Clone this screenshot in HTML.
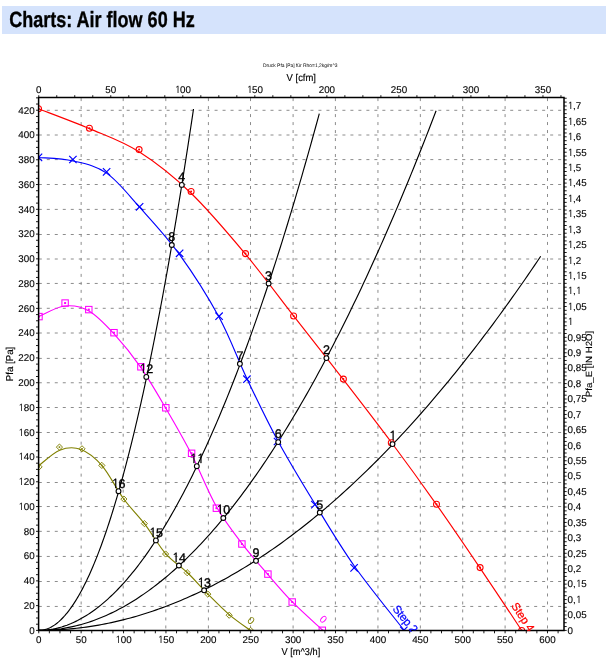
<!DOCTYPE html>
<html><head><meta charset="utf-8"><title>Charts: Air flow 60 Hz</title>
<style>html,body{margin:0;padding:0;background:#fff;width:606px;height:661px;overflow:hidden;position:relative}</style>
</head><body>
<svg xmlns="http://www.w3.org/2000/svg" width="606" height="661" viewBox="0 0 606 661" text-rendering="geometricPrecision" style="position:absolute;left:0;top:0">
<defs><clipPath id="pl"><rect x="38.6" y="97.6" width="525.4" height="534.2"/></clipPath><clipPath id="pc"><rect x="38.6" y="97.6" width="525.4" height="532.9"/></clipPath></defs>
<rect x="2" y="6" width="604" height="28" fill="#d5e3fc"/>
<text x="9.2" y="26.9" font-family="Liberation Sans, Arial, sans-serif" font-weight="bold" font-size="22.1" textLength="185.5" lengthAdjust="spacingAndGlyphs" fill="#000" stroke="#000" stroke-width="0.35">Charts: Air flow 60 Hz</text>
<path d="M81.15,98.1V630.50 M123.20,98.1V630.50 M165.80,98.1V630.50 M208.40,98.1V630.50 M250.50,98.1V630.50 M293.10,98.1V630.50 M335.40,98.1V630.50 M377.95,98.1V630.50 M420.35,98.1V630.50 M462.70,98.1V630.50 M505.10,98.1V630.50 M547.50,98.1V630.50" stroke="#8c8c8c" stroke-width="1" stroke-dasharray="3 4.99" fill="none"/>
<path d="M38.8,606.45H564.00 M38.8,581.50H564.00 M38.8,556.44H564.00 M38.8,531.35H564.00 M38.8,506.53H564.00 M38.8,482.50H564.00 M38.8,457.50H564.00 M38.8,432.50H564.00 M38.8,407.50H564.00 M38.8,382.75H564.00 M38.8,358.40H564.00 M38.8,333.00H564.00 M38.8,308.30H564.00 M38.8,283.45H564.00 M38.8,259.00H564.00 M38.8,234.50H564.00 M38.8,209.40H564.00 M38.8,184.50H564.00 M38.8,159.60H564.00 M38.8,135.00H564.00 M38.8,110.30H564.00" stroke="#8c8c8c" stroke-width="1" stroke-dasharray="3 4.99" fill="none"/>
<path d="M36.00,630.40H38.60 M36.00,624.21H38.60 M36.00,618.01H38.60 M36.00,611.82H38.60 M36.00,605.63H38.60 M36.00,599.44H38.60 M36.00,593.25H38.60 M36.00,587.05H38.60 M36.00,580.86H38.60 M36.00,574.67H38.60 M36.00,568.48H38.60 M36.00,562.28H38.60 M36.00,556.09H38.60 M36.00,549.90H38.60 M36.00,543.70H38.60 M36.00,537.51H38.60 M36.00,531.32H38.60 M36.00,525.13H38.60 M36.00,518.93H38.60 M36.00,512.74H38.60 M36.00,506.55H38.60 M36.00,500.36H38.60 M36.00,494.16H38.60 M36.00,487.97H38.60 M36.00,481.78H38.60 M36.00,475.59H38.60 M36.00,469.39H38.60 M36.00,463.20H38.60 M36.00,457.01H38.60 M36.00,450.82H38.60 M36.00,444.62H38.60 M36.00,438.43H38.60 M36.00,432.24H38.60 M36.00,426.05H38.60 M36.00,419.86H38.60 M36.00,413.66H38.60 M36.00,407.47H38.60 M36.00,401.28H38.60 M36.00,395.08H38.60 M36.00,388.89H38.60 M36.00,382.70H38.60 M36.00,376.51H38.60 M36.00,370.31H38.60 M36.00,364.12H38.60 M36.00,357.93H38.60 M36.00,351.74H38.60 M36.00,345.55H38.60 M36.00,339.35H38.60 M36.00,333.16H38.60 M36.00,326.97H38.60 M36.00,320.77H38.60 M36.00,314.58H38.60 M36.00,308.39H38.60 M36.00,302.20H38.60 M36.00,296.00H38.60 M36.00,289.81H38.60 M36.00,283.62H38.60 M36.00,277.43H38.60 M36.00,271.24H38.60 M36.00,265.04H38.60 M36.00,258.85H38.60 M36.00,252.66H38.60 M36.00,246.46H38.60 M36.00,240.27H38.60 M36.00,234.08H38.60 M36.00,227.89H38.60 M36.00,221.69H38.60 M36.00,215.50H38.60 M36.00,209.31H38.60 M36.00,203.12H38.60 M36.00,196.93H38.60 M36.00,190.73H38.60 M36.00,184.54H38.60 M36.00,178.35H38.60 M36.00,172.16H38.60 M36.00,165.96H38.60 M36.00,159.77H38.60 M36.00,153.58H38.60 M36.00,147.38H38.60 M36.00,141.19H38.60 M36.00,135.00H38.60 M36.00,128.81H38.60 M36.00,122.62H38.60 M36.00,116.42H38.60 M36.00,110.23H38.60 M36.00,104.04H38.60 M36.00,97.85H38.60 M564.00,630.40H566.70 M564.00,626.54H566.70 M564.00,622.69H566.70 M564.00,618.83H566.70 M564.00,614.98H566.70 M564.00,611.12H566.70 M564.00,607.26H566.70 M564.00,603.41H566.70 M564.00,599.55H566.70 M564.00,595.69H566.70 M564.00,591.84H566.70 M564.00,587.98H566.70 M564.00,584.13H566.70 M564.00,580.27H566.70 M564.00,576.41H566.70 M564.00,572.56H566.70 M564.00,568.70H566.70 M564.00,564.84H566.70 M564.00,560.99H566.70 M564.00,557.13H566.70 M564.00,553.28H566.70 M564.00,549.42H566.70 M564.00,545.56H566.70 M564.00,541.71H566.70 M564.00,537.85H566.70 M564.00,533.99H566.70 M564.00,530.14H566.70 M564.00,526.28H566.70 M564.00,522.43H566.70 M564.00,518.57H566.70 M564.00,514.71H566.70 M564.00,510.86H566.70 M564.00,507.00H566.70 M564.00,503.15H566.70 M564.00,499.29H566.70 M564.00,495.43H566.70 M564.00,491.58H566.70 M564.00,487.72H566.70 M564.00,483.86H566.70 M564.00,480.01H566.70 M564.00,476.15H566.70 M564.00,472.30H566.70 M564.00,468.44H566.70 M564.00,464.58H566.70 M564.00,460.73H566.70 M564.00,456.87H566.70 M564.00,453.01H566.70 M564.00,449.16H566.70 M564.00,445.30H566.70 M564.00,441.45H566.70 M564.00,437.59H566.70 M564.00,433.73H566.70 M564.00,429.88H566.70 M564.00,426.02H566.70 M564.00,422.16H566.70 M564.00,418.31H566.70 M564.00,414.45H566.70 M564.00,410.60H566.70 M564.00,406.74H566.70 M564.00,402.88H566.70 M564.00,399.03H566.70 M564.00,395.17H566.70 M564.00,391.32H566.70 M564.00,387.46H566.70 M564.00,383.60H566.70 M564.00,379.75H566.70 M564.00,375.89H566.70 M564.00,372.03H566.70 M564.00,368.18H566.70 M564.00,364.32H566.70 M564.00,360.47H566.70 M564.00,356.61H566.70 M564.00,352.75H566.70 M564.00,348.90H566.70 M564.00,345.04H566.70 M564.00,341.18H566.70 M564.00,337.33H566.70 M564.00,333.47H566.70 M564.00,329.62H566.70 M564.00,325.76H566.70 M564.00,321.90H566.70 M564.00,318.05H566.70 M564.00,314.19H566.70 M564.00,310.33H566.70 M564.00,306.48H566.70 M564.00,302.62H566.70 M564.00,298.77H566.70 M564.00,294.91H566.70 M564.00,291.05H566.70 M564.00,287.20H566.70 M564.00,283.34H566.70 M564.00,279.48H566.70 M564.00,275.63H566.70 M564.00,271.77H566.70 M564.00,267.92H566.70 M564.00,264.06H566.70 M564.00,260.20H566.70 M564.00,256.35H566.70 M564.00,252.49H566.70 M564.00,248.64H566.70 M564.00,244.78H566.70 M564.00,240.92H566.70 M564.00,237.07H566.70 M564.00,233.21H566.70 M564.00,229.35H566.70 M564.00,225.50H566.70 M564.00,221.64H566.70 M564.00,217.79H566.70 M564.00,213.93H566.70 M564.00,210.07H566.70 M564.00,206.22H566.70 M564.00,202.36H566.70 M564.00,198.50H566.70 M564.00,194.65H566.70 M564.00,190.79H566.70 M564.00,186.94H566.70 M564.00,183.08H566.70 M564.00,179.22H566.70 M564.00,175.37H566.70 M564.00,171.51H566.70 M564.00,167.65H566.70 M564.00,163.80H566.70 M564.00,159.94H566.70 M564.00,156.09H566.70 M564.00,152.23H566.70 M564.00,148.37H566.70 M564.00,144.52H566.70 M564.00,140.66H566.70 M564.00,136.81H566.70 M564.00,132.95H566.70 M564.00,129.09H566.70 M564.00,125.24H566.70 M564.00,121.38H566.70 M564.00,117.52H566.70 M564.00,113.67H566.70 M564.00,109.81H566.70 M564.00,105.96H566.70 M564.00,102.10H566.70 M564.00,98.24H566.70 M38.75,630.50V633.30 M49.35,630.50V633.30 M59.95,630.50V633.30 M70.55,630.50V633.30 M81.14,630.50V633.30 M91.74,630.50V633.30 M102.34,630.50V633.30 M112.94,630.50V633.30 M123.54,630.50V633.30 M134.14,630.50V633.30 M144.74,630.50V633.30 M155.34,630.50V633.30 M165.94,630.50V633.30 M176.53,630.50V633.30 M187.13,630.50V633.30 M197.73,630.50V633.30 M208.33,630.50V633.30 M218.93,630.50V633.30 M229.53,630.50V633.30 M240.13,630.50V633.30 M250.72,630.50V633.30 M261.32,630.50V633.30 M271.92,630.50V633.30 M282.52,630.50V633.30 M293.12,630.50V633.30 M303.72,630.50V633.30 M314.32,630.50V633.30 M324.92,630.50V633.30 M335.51,630.50V633.30 M346.11,630.50V633.30 M356.71,630.50V633.30 M367.31,630.50V633.30 M377.91,630.50V633.30 M388.51,630.50V633.30 M399.11,630.50V633.30 M409.71,630.50V633.30 M420.31,630.50V633.30 M430.90,630.50V633.30 M441.50,630.50V633.30 M452.10,630.50V633.30 M462.70,630.50V633.30 M473.30,630.50V633.30 M483.90,630.50V633.30 M494.50,630.50V633.30 M505.09,630.50V633.30 M515.69,630.50V633.30 M526.29,630.50V633.30 M536.89,630.50V633.30 M547.49,630.50V633.30 M558.09,630.50V633.30 M38.75,95.20V97.60 M56.76,95.20V97.60 M74.76,95.20V97.60 M92.77,95.20V97.60 M110.78,95.20V97.60 M128.79,95.20V97.60 M146.79,95.20V97.60 M164.80,95.20V97.60 M182.81,95.20V97.60 M200.82,95.20V97.60 M218.82,95.20V97.60 M236.83,95.20V97.60 M254.84,95.20V97.60 M272.85,95.20V97.60 M290.85,95.20V97.60 M308.86,95.20V97.60 M326.87,95.20V97.60 M344.88,95.20V97.60 M362.88,95.20V97.60 M380.89,95.20V97.60 M398.90,95.20V97.60 M416.91,95.20V97.60 M434.91,95.20V97.60 M452.92,95.20V97.60 M470.93,95.20V97.60 M488.93,95.20V97.60 M506.94,95.20V97.60 M524.95,95.20V97.60 M542.96,95.20V97.60 M560.96,95.20V97.60" stroke="#000" stroke-width="0.9" fill="none"/>
<g clip-path="url(#pc)">
<path d="M38.75,630.40 L41.91,630.39 L45.06,630.34 L48.22,630.27 L51.38,630.16 L54.53,630.03 L57.69,629.87 L60.85,629.67 L64.01,629.45 L67.16,629.20 L70.32,628.92 L73.48,628.61 L76.63,628.27 L79.79,627.90 L82.95,627.50 L86.10,627.07 L89.26,626.61 L92.42,626.12 L95.57,625.61 L98.73,625.06 L101.89,624.48 L105.05,623.87 L108.20,623.24 L111.36,622.57 L114.52,621.88 L117.67,621.15 L120.83,620.40 L123.99,619.61 L127.14,618.80 L130.30,617.96 L133.46,617.08 L136.61,616.18 L139.77,615.25 L142.93,614.29 L146.09,613.29 L149.24,612.27 L152.40,611.22 L155.56,610.14 L158.71,609.03 L161.87,607.89 L165.03,606.72 L168.18,605.53 L171.34,604.30 L174.50,603.04 L177.65,601.75 L180.81,600.43 L183.97,599.09 L187.13,597.71 L190.28,596.31 L193.44,594.87 L196.60,593.41 L199.75,591.91 L202.91,590.39 L206.07,588.83 L209.22,587.25 L212.38,585.64 L215.54,583.99 L218.69,582.32 L221.85,580.62 L225.01,578.89 L228.17,577.13 L231.32,575.34 L234.48,573.52 L237.64,571.67 L240.79,569.79 L243.95,567.88 L247.11,565.94 L250.26,563.97 L253.42,561.98 L256.58,559.95 L259.73,557.89 L262.89,555.80 L266.05,553.69 L269.21,551.54 L272.36,549.37 L275.52,547.16 L278.68,544.93 L281.83,542.66 L284.99,540.37 L288.15,538.05 L291.30,535.69 L294.46,533.31 L297.62,530.90 L300.77,528.46 L303.93,525.99 L307.09,523.49 L310.24,520.96 L313.40,518.40 L316.56,515.81 L319.72,513.19 L322.87,510.54 L326.03,507.86 L329.19,505.15 L332.34,502.41 L335.50,499.65 L338.66,496.85 L341.81,494.02 L344.97,491.17 L348.13,488.28 L351.28,485.37 L354.44,482.42 L357.60,479.45 L360.76,476.44 L363.91,473.41 L367.07,470.35 L370.23,467.26 L373.38,464.13 L376.54,460.98 L379.70,457.80 L382.85,454.59 L386.01,451.35 L389.17,448.08 L392.32,444.78 L395.48,441.45 L398.64,438.09 L401.80,434.70 L404.95,431.28 L408.11,427.83 L411.27,424.36 L414.42,420.85 L417.58,417.31 L420.74,413.75 L423.89,410.15 L427.05,406.53 L430.21,402.87 L433.36,399.19 L436.52,395.47 L439.68,391.73 L442.84,387.95 L445.99,384.15 L449.15,380.32 L452.31,376.46 L455.46,372.57 L458.62,368.64 L461.78,364.69 L464.93,360.71 L468.09,356.70 L471.25,352.66 L474.40,348.59 L477.56,344.49 L480.72,340.37 L483.88,336.21 L487.03,332.02 L490.19,327.80 L493.35,323.56 L496.50,319.28 L499.66,314.97 L502.82,310.64 L505.97,306.27 L509.13,301.88 L512.29,297.45 L515.44,293.00 L518.60,288.51 L521.76,284.00 L524.92,279.46 L528.07,274.89 L531.23,270.28 L534.39,265.65 L537.54,260.99 L540.70,256.30" stroke="#000" stroke-width="1.15" fill="none"/>
<path d="M38.75,630.40 L41.25,630.38 L43.75,630.32 L46.25,630.22 L48.75,630.07 L51.25,629.89 L53.74,629.66 L56.24,629.39 L58.74,629.08 L61.24,628.74 L63.74,628.34 L66.24,627.91 L68.74,627.44 L71.24,626.93 L73.74,626.37 L76.24,625.78 L78.73,625.14 L81.23,624.46 L83.73,623.74 L86.23,622.98 L88.73,622.18 L91.23,621.34 L93.73,620.45 L96.23,619.53 L98.73,618.56 L101.23,617.55 L103.73,616.51 L106.22,615.42 L108.72,614.29 L111.22,613.12 L113.72,611.90 L116.22,610.65 L118.72,609.35 L121.22,608.02 L123.72,606.64 L126.22,605.22 L128.72,603.76 L131.22,602.26 L133.71,600.72 L136.21,599.14 L138.71,597.52 L141.21,595.85 L143.71,594.14 L146.21,592.40 L148.71,590.61 L151.21,588.78 L153.71,586.91 L156.21,585.00 L158.70,583.05 L161.20,581.05 L163.70,579.02 L166.20,576.94 L168.70,574.83 L171.20,572.67 L173.70,570.47 L176.20,568.23 L178.70,565.95 L181.20,563.62 L183.70,561.26 L186.19,558.86 L188.69,556.41 L191.19,553.92 L193.69,551.40 L196.19,548.83 L198.69,546.22 L201.19,543.56 L203.69,540.87 L206.19,538.14 L208.69,535.36 L211.18,532.55 L213.68,529.69 L216.18,526.79 L218.68,523.85 L221.18,520.87 L223.68,517.85 L226.18,514.79 L228.68,511.69 L231.18,508.54 L233.68,505.36 L236.18,502.13 L238.67,498.86 L241.17,495.55 L243.67,492.20 L246.17,488.81 L248.67,485.38 L251.17,481.91 L253.67,478.39 L256.17,474.84 L258.67,471.24 L261.17,467.60 L263.67,463.92 L266.16,460.20 L268.66,456.44 L271.16,452.64 L273.66,448.80 L276.16,444.91 L278.66,440.99 L281.16,437.02 L283.66,433.01 L286.16,428.96 L288.66,424.87 L291.15,420.74 L293.65,416.57 L296.15,412.36 L298.65,408.10 L301.15,403.81 L303.65,399.47 L306.15,395.09 L308.65,390.67 L311.15,386.21 L313.65,381.71 L316.15,377.17 L318.64,372.59 L321.14,367.96 L323.64,363.30 L326.14,358.59 L328.64,353.84 L331.14,349.05 L333.64,344.22 L336.14,339.35 L338.64,334.44 L341.14,329.49 L343.63,324.49 L346.13,319.46 L348.63,314.38 L351.13,309.26 L353.63,304.10 L356.13,298.90 L358.63,293.66 L361.13,288.38 L363.63,283.06 L366.13,277.69 L368.63,272.29 L371.12,266.84 L373.62,261.35 L376.12,255.83 L378.62,250.26 L381.12,244.64 L383.62,238.99 L386.12,233.30 L388.62,227.57 L391.12,221.79 L393.62,215.97 L396.12,210.12 L398.61,204.22 L401.11,198.28 L403.61,192.30 L406.11,186.27 L408.61,180.21 L411.11,174.11 L413.61,167.96 L416.11,161.78 L418.61,155.55 L421.11,149.28 L423.60,142.97 L426.10,136.62 L428.60,130.23 L431.10,123.79 L433.60,117.32 L436.10,110.80" stroke="#000" stroke-width="1.15" fill="none"/>
<path d="M38.75,630.40 L40.51,630.38 L42.28,630.32 L44.04,630.22 L45.81,630.07 L47.57,629.89 L49.34,629.66 L51.10,629.40 L52.87,629.09 L54.63,628.74 L56.39,628.36 L58.16,627.93 L59.92,627.46 L61.69,626.95 L63.45,626.39 L65.22,625.80 L66.98,625.17 L68.75,624.49 L70.51,623.78 L72.27,623.02 L74.04,622.22 L75.80,621.38 L77.57,620.51 L79.33,619.59 L81.10,618.62 L82.86,617.62 L84.63,616.58 L86.39,615.50 L88.16,614.37 L89.92,613.21 L91.68,612.00 L93.45,610.75 L95.21,609.47 L96.98,608.14 L98.74,606.77 L100.51,605.36 L102.27,603.91 L104.04,602.41 L105.80,600.88 L107.56,599.31 L109.33,597.69 L111.09,596.04 L112.86,594.34 L114.62,592.60 L116.39,590.82 L118.15,589.00 L119.92,587.14 L121.68,585.24 L123.44,583.30 L125.21,581.32 L126.97,579.29 L128.74,577.23 L130.50,575.12 L132.27,572.98 L134.03,570.79 L135.80,568.56 L137.56,566.29 L139.32,563.98 L141.09,561.63 L142.85,559.24 L144.62,556.81 L146.38,554.33 L148.15,551.82 L149.91,549.26 L151.68,546.67 L153.44,544.03 L155.20,541.35 L156.97,538.63 L158.73,535.87 L160.50,533.07 L162.26,530.23 L164.03,527.35 L165.79,524.42 L167.56,521.46 L169.32,518.45 L171.08,515.41 L172.85,512.32 L174.61,509.19 L176.38,506.03 L178.14,502.82 L179.91,499.57 L181.67,496.27 L183.44,492.94 L185.20,489.57 L186.97,486.16 L188.73,482.70 L190.49,479.20 L192.26,475.67 L194.02,472.09 L195.79,468.47 L197.55,464.81 L199.32,461.11 L201.08,457.37 L202.85,453.59 L204.61,449.77 L206.37,445.90 L208.14,442.00 L209.90,438.05 L211.67,434.07 L213.43,430.04 L215.20,425.97 L216.96,421.86 L218.73,417.71 L220.49,413.52 L222.25,409.29 L224.02,405.02 L225.78,400.70 L227.55,396.35 L229.31,391.95 L231.08,387.52 L232.84,383.04 L234.61,378.52 L236.37,373.96 L238.13,369.37 L239.90,364.72 L241.66,360.04 L243.43,355.32 L245.19,350.56 L246.96,345.75 L248.72,340.91 L250.49,336.02 L252.25,331.10 L254.01,326.13 L255.78,321.12 L257.54,316.07 L259.31,310.98 L261.07,305.85 L262.84,300.68 L264.60,295.46 L266.37,290.21 L268.13,284.92 L269.89,279.58 L271.66,274.20 L273.42,268.79 L275.19,263.33 L276.95,257.83 L278.72,252.29 L280.48,246.71 L282.25,241.09 L284.01,235.42 L285.78,229.72 L287.54,223.98 L289.30,218.19 L291.07,212.36 L292.83,206.50 L294.60,200.59 L296.36,194.64 L298.13,188.65 L299.89,182.62 L301.66,176.55 L303.42,170.44 L305.18,164.28 L306.95,158.09 L308.71,151.85 L310.48,145.58 L312.24,139.26 L314.01,132.90 L315.77,126.50 L317.54,120.06 L319.30,113.58" stroke="#000" stroke-width="1.15" fill="none"/>
<path d="M38.75,630.40 L39.72,630.38 L40.70,630.32 L41.67,630.21 L42.64,630.07 L43.62,629.88 L44.59,629.66 L45.56,629.39 L46.54,629.08 L47.51,628.73 L48.48,628.34 L49.46,627.90 L50.43,627.43 L51.40,626.91 L52.38,626.36 L53.35,625.76 L54.32,625.12 L55.30,624.44 L56.27,623.72 L57.24,622.96 L58.22,622.15 L59.19,621.31 L60.16,620.42 L61.14,619.49 L62.11,618.52 L63.08,617.51 L64.06,616.46 L65.03,615.37 L66.00,614.23 L66.97,613.06 L67.95,611.84 L68.92,610.58 L69.89,609.28 L70.87,607.94 L71.84,606.56 L72.81,605.14 L73.79,603.67 L74.76,602.17 L75.73,600.62 L76.71,599.03 L77.68,597.40 L78.65,595.73 L79.63,594.02 L80.60,592.27 L81.57,590.47 L82.55,588.64 L83.52,586.76 L84.49,584.84 L85.47,582.88 L86.44,580.88 L87.41,578.84 L88.39,576.76 L89.36,574.64 L90.33,572.47 L91.31,570.26 L92.28,568.02 L93.25,565.73 L94.23,563.40 L95.20,561.02 L96.17,558.61 L97.15,556.16 L98.12,553.66 L99.09,551.13 L100.07,548.55 L101.04,545.93 L102.01,543.27 L102.99,540.57 L103.96,537.82 L104.93,535.04 L105.91,532.21 L106.88,529.35 L107.85,526.44 L108.83,523.49 L109.80,520.50 L110.77,517.47 L111.75,514.40 L112.72,511.28 L113.69,508.13 L114.67,504.93 L115.64,501.69 L116.61,498.41 L117.58,495.09 L118.56,491.73 L119.53,488.33 L120.50,484.89 L121.48,481.40 L122.45,477.87 L123.42,474.31 L124.40,470.70 L125.37,467.05 L126.34,463.35 L127.32,459.62 L128.29,455.85 L129.26,452.03 L130.24,448.18 L131.21,444.28 L132.18,440.34 L133.16,436.36 L134.13,432.34 L135.10,428.28 L136.08,424.17 L137.05,420.03 L138.02,415.84 L139.00,411.61 L139.97,407.34 L140.94,403.03 L141.92,398.68 L142.89,394.29 L143.86,389.85 L144.84,385.38 L145.81,380.86 L146.78,376.31 L147.76,371.71 L148.73,367.07 L149.70,362.39 L150.68,357.66 L151.65,352.90 L152.62,348.09 L153.60,343.25 L154.57,338.36 L155.54,333.43 L156.52,328.46 L157.49,323.45 L158.46,318.40 L159.44,313.30 L160.41,308.17 L161.38,302.99 L162.36,297.77 L163.33,292.51 L164.30,287.21 L165.28,281.87 L166.25,276.49 L167.22,271.07 L168.19,265.60 L169.17,260.10 L170.14,254.55 L171.11,248.96 L172.09,243.33 L173.06,237.66 L174.03,231.95 L175.01,226.19 L175.98,220.40 L176.95,214.56 L177.93,208.68 L178.90,202.76 L179.87,196.80 L180.85,190.80 L181.82,184.76 L182.79,178.68 L183.77,172.55 L184.74,166.39 L185.71,160.18 L186.69,153.93 L187.66,147.64 L188.63,141.31 L189.61,134.94 L190.58,128.52 L191.55,122.07 L192.53,115.57 L193.50,109.03" stroke="#000" stroke-width="1.15" fill="none"/>
<circle cx="38.5" cy="108.7" r="3.0" stroke="#ff0000" stroke-width="1.05" fill="#fff"/><circle cx="38.5" cy="108.7" r="1" fill="#ff0000"/>
<circle cx="89.4" cy="128.3" r="3.0" stroke="#ff0000" stroke-width="1.05" fill="#fff"/><circle cx="89.4" cy="128.3" r="1" fill="#ff0000"/>
<circle cx="139.1" cy="149.6" r="3.0" stroke="#ff0000" stroke-width="1.05" fill="#fff"/><circle cx="139.1" cy="149.6" r="1" fill="#ff0000"/>
<circle cx="191.1" cy="191.5" r="3.0" stroke="#ff0000" stroke-width="1.05" fill="#fff"/><circle cx="191.1" cy="191.5" r="1" fill="#ff0000"/>
<circle cx="245.5" cy="253.6" r="3.0" stroke="#ff0000" stroke-width="1.05" fill="#fff"/><circle cx="245.5" cy="253.6" r="1" fill="#ff0000"/>
<circle cx="293.6" cy="316" r="3.0" stroke="#ff0000" stroke-width="1.05" fill="#fff"/><circle cx="293.6" cy="316" r="1" fill="#ff0000"/>
<circle cx="343.4" cy="379.1" r="3.0" stroke="#ff0000" stroke-width="1.05" fill="#fff"/><circle cx="343.4" cy="379.1" r="1" fill="#ff0000"/>
<circle cx="391.3" cy="442.8" r="3.0" stroke="#ff0000" stroke-width="1.05" fill="#fff"/><circle cx="391.3" cy="442.8" r="1" fill="#ff0000"/>
<circle cx="436.5" cy="504.2" r="3.0" stroke="#ff0000" stroke-width="1.05" fill="#fff"/><circle cx="436.5" cy="504.2" r="1" fill="#ff0000"/>
<circle cx="480.1" cy="567.6" r="3.0" stroke="#ff0000" stroke-width="1.05" fill="#fff"/><circle cx="480.1" cy="567.6" r="1" fill="#ff0000"/>
<circle cx="521.7" cy="630.4" r="3.0" stroke="#ff0000" stroke-width="1.05" fill="#fff"/><circle cx="521.7" cy="630.4" r="1" fill="#ff0000"/>
<rect x="35.80" y="313.40" width="6.4" height="6.4" stroke="#ff00ff" stroke-width="1.05" fill="#fff"/><rect x="38.00" y="315.60" width="2" height="2" fill="#ff00ff"/>
<rect x="61.90" y="299.85" width="6.4" height="6.4" stroke="#ff00ff" stroke-width="1.05" fill="#fff"/><rect x="64.10" y="302.05" width="2" height="2" fill="#ff00ff"/>
<rect x="85.60" y="306.40" width="6.4" height="6.4" stroke="#ff00ff" stroke-width="1.05" fill="#fff"/><rect x="87.80" y="308.60" width="2" height="2" fill="#ff00ff"/>
<rect x="110.80" y="329.50" width="6.4" height="6.4" stroke="#ff00ff" stroke-width="1.05" fill="#fff"/><rect x="113.00" y="331.70" width="2" height="2" fill="#ff00ff"/>
<rect x="137.70" y="363.60" width="6.4" height="6.4" stroke="#ff00ff" stroke-width="1.05" fill="#fff"/><rect x="139.90" y="365.80" width="2" height="2" fill="#ff00ff"/>
<rect x="162.60" y="404.60" width="6.4" height="6.4" stroke="#ff00ff" stroke-width="1.05" fill="#fff"/><rect x="164.80" y="406.80" width="2" height="2" fill="#ff00ff"/>
<rect x="188.40" y="450.10" width="6.4" height="6.4" stroke="#ff00ff" stroke-width="1.05" fill="#fff"/><rect x="190.60" y="452.30" width="2" height="2" fill="#ff00ff"/>
<rect x="213.20" y="505.00" width="6.4" height="6.4" stroke="#ff00ff" stroke-width="1.05" fill="#fff"/><rect x="215.40" y="507.20" width="2" height="2" fill="#ff00ff"/>
<rect x="238.70" y="540.80" width="6.4" height="6.4" stroke="#ff00ff" stroke-width="1.05" fill="#fff"/><rect x="240.90" y="543.00" width="2" height="2" fill="#ff00ff"/>
<rect x="264.70" y="570.90" width="6.4" height="6.4" stroke="#ff00ff" stroke-width="1.05" fill="#fff"/><rect x="266.90" y="573.10" width="2" height="2" fill="#ff00ff"/>
<rect x="289.00" y="598.80" width="6.4" height="6.4" stroke="#ff00ff" stroke-width="1.05" fill="#fff"/><rect x="291.20" y="601.00" width="2" height="2" fill="#ff00ff"/>
<rect x="319.10" y="627.10" width="6.4" height="6.4" stroke="#ff00ff" stroke-width="1.05" fill="#fff"/><rect x="321.30" y="629.30" width="2" height="2" fill="#ff00ff"/>
<path d="M39.10,463.80L42.20,466.90L39.10,470.00L36.00,466.90Z" stroke="#808000" stroke-width="0.95" fill="#fff"/><rect x="38.30" y="466.10" width="1.6" height="1.6" fill="#808000"/>
<path d="M59.45,444.00L62.55,447.10L59.45,450.20L56.35,447.10Z" stroke="#808000" stroke-width="0.95" fill="#fff"/><rect x="58.65" y="446.30" width="1.6" height="1.6" fill="#808000"/>
<path d="M82.00,445.70L85.10,448.80L82.00,451.90L78.90,448.80Z" stroke="#808000" stroke-width="0.95" fill="#fff"/><rect x="81.20" y="448.00" width="1.6" height="1.6" fill="#808000"/>
<path d="M101.80,462.30L104.90,465.40L101.80,468.50L98.70,465.40Z" stroke="#808000" stroke-width="0.95" fill="#fff"/><rect x="101.00" y="464.60" width="1.6" height="1.6" fill="#808000"/>
<path d="M123.90,496.00L127.00,499.10L123.90,502.20L120.80,499.10Z" stroke="#808000" stroke-width="0.95" fill="#fff"/><rect x="123.10" y="498.30" width="1.6" height="1.6" fill="#808000"/>
<path d="M144.40,520.50L147.50,523.60L144.40,526.70L141.30,523.60Z" stroke="#808000" stroke-width="0.95" fill="#fff"/><rect x="143.60" y="522.80" width="1.6" height="1.6" fill="#808000"/>
<path d="M165.60,550.90L168.70,554.00L165.60,557.10L162.50,554.00Z" stroke="#808000" stroke-width="0.95" fill="#fff"/><rect x="164.80" y="553.20" width="1.6" height="1.6" fill="#808000"/>
<path d="M187.20,569.60L190.30,572.70L187.20,575.80L184.10,572.70Z" stroke="#808000" stroke-width="0.95" fill="#fff"/><rect x="186.40" y="571.90" width="1.6" height="1.6" fill="#808000"/>
<path d="M207.80,591.00L210.90,594.10L207.80,597.20L204.70,594.10Z" stroke="#808000" stroke-width="0.95" fill="#fff"/><rect x="207.00" y="593.30" width="1.6" height="1.6" fill="#808000"/>
<path d="M229.20,612.10L232.30,615.20L229.20,618.30L226.10,615.20Z" stroke="#808000" stroke-width="0.95" fill="#fff"/><rect x="228.40" y="614.40" width="1.6" height="1.6" fill="#808000"/>
<path d="M250.60,627.30L253.70,630.40L250.60,633.50L247.50,630.40Z" stroke="#808000" stroke-width="0.95" fill="#fff"/><rect x="249.80" y="629.60" width="1.6" height="1.6" fill="#808000"/>
<path d="M38.50,465.97 C42.04,463.34 52.65,452.92 59.72,450.17 C66.79,447.42 73.87,446.87 80.94,449.48 C88.01,452.09 95.09,457.66 102.16,465.83 C109.23,474.00 116.31,488.82 123.38,498.50 C130.45,508.18 137.53,514.70 144.60,523.92 C151.67,533.15 158.75,545.80 165.82,553.86 C172.89,561.92 179.97,565.51 187.04,572.29 C194.11,579.06 201.19,587.41 208.26,594.50 C215.33,601.59 222.41,608.81 229.48,614.83 C236.55,620.86 247.16,628.04 250.70,630.68" stroke="#808000" stroke-width="1.15" fill="none" stroke-linejoin="round"/>
<path d="M38.50,316.64 C42.85,314.88 56.18,306.99 64.60,306.05 C73.02,305.12 80.68,306.28 89.00,311.01 C97.32,315.74 105.90,325.05 114.50,334.41 C123.10,343.78 132.05,354.89 140.60,367.20 C149.15,379.51 157.33,393.79 165.80,408.26 C174.27,422.74 182.95,437.64 191.40,454.07 C199.85,470.50 208.07,491.91 216.50,506.83 C224.93,521.75 233.45,532.33 242.00,543.59 C250.55,554.86 259.37,564.67 267.80,574.44 C276.23,584.21 283.52,592.98 292.60,602.22 C301.68,611.46 317.35,625.28 322.30,629.89" stroke="#ff00ff" stroke-width="1.15" fill="none" stroke-linejoin="round"/>
<path d="M38.50,157.45 C44.23,158.03 61.55,158.33 72.90,160.94 C84.25,163.56 95.48,165.41 106.60,173.12 C117.72,180.83 127.43,193.62 139.60,207.19 C151.77,220.77 166.35,236.24 179.60,254.57 C192.85,272.90 207.88,296.52 219.10,317.18 C230.32,337.84 237.17,358.03 246.90,378.53 C256.63,399.03 266.18,419.29 277.50,440.16 C288.82,461.03 302.08,482.81 314.85,503.73 C327.62,524.66 339.28,544.67 354.10,565.71 C368.93,586.74 395.52,619.23 403.80,629.93" stroke="#0000ff" stroke-width="1.15" fill="none" stroke-linejoin="round"/>
<path d="M38.50,108.75 C46.98,112.07 72.63,121.45 89.40,128.63 C106.17,135.81 122.15,141.06 139.10,151.84 C156.05,162.61 173.37,176.21 191.10,193.26 C208.83,210.31 228.42,233.71 245.50,254.13 C262.58,274.56 277.28,294.89 293.60,315.81 C309.92,336.72 327.12,358.52 343.40,379.60 C359.68,400.68 375.78,421.45 391.30,442.27 C406.82,463.10 421.70,483.59 436.50,504.55 C451.30,525.51 465.90,547.08 480.10,568.06 C494.30,589.05 514.77,620.05 521.70,630.45" stroke="#ff0000" stroke-width="1.15" fill="none" stroke-linejoin="round"/>
<path d="M34.80,153.70L42.20,161.10M34.80,161.10L42.20,153.70" stroke="#0000ff" stroke-width="1.2" fill="none"/>
<path d="M69.20,155.80L76.60,163.20M69.20,163.20L76.60,155.80" stroke="#0000ff" stroke-width="1.2" fill="none"/>
<path d="M102.90,168.20L110.30,175.60M102.90,175.60L110.30,168.20" stroke="#0000ff" stroke-width="1.2" fill="none"/>
<path d="M135.90,203.10L143.30,210.50M135.90,210.50L143.30,203.10" stroke="#0000ff" stroke-width="1.2" fill="none"/>
<path d="M175.90,249.60L183.30,257.00M175.90,257.00L183.30,249.60" stroke="#0000ff" stroke-width="1.2" fill="none"/>
<path d="M215.40,312.50L222.80,319.90M215.40,319.90L222.80,312.50" stroke="#0000ff" stroke-width="1.2" fill="none"/>
<path d="M243.20,375.50L250.60,382.90M243.20,382.90L250.60,375.50" stroke="#0000ff" stroke-width="1.2" fill="none"/>
<path d="M273.80,437.80L281.20,445.20M273.80,445.20L281.20,437.80" stroke="#0000ff" stroke-width="1.2" fill="none"/>
<path d="M311.15,500.90L318.55,508.30M311.15,508.30L318.55,500.90" stroke="#0000ff" stroke-width="1.2" fill="none"/>
<path d="M350.40,564.20L357.80,571.60M350.40,571.60L357.80,564.20" stroke="#0000ff" stroke-width="1.2" fill="none"/>
<path d="M400.10,626.70L407.50,634.10M400.10,634.10L407.50,626.70" stroke="#0000ff" stroke-width="1.2" fill="none"/>
</g>
<path d="M38.6,97.6H564.0V630.5H38.6Z" stroke="#000" stroke-width="1.5" fill="none"/>
<g clip-path="url(#pl)">
<text transform="translate(510.8,605.8) rotate(56.5)" font-family="Liberation Sans, Arial, sans-serif" font-size="11.5" letter-spacing="-0.2" fill="#ff0000" stroke="#ff0000" stroke-width="0.25">Step 4</text>
<text transform="translate(391.9,609.3) rotate(50)" font-family="Liberation Sans, Arial, sans-serif" font-size="11.5" letter-spacing="-0.2" fill="#0000ff" stroke="#0000ff" stroke-width="0.25">Step 2</text>
<text transform="translate(318.8,620.0) rotate(42)" font-family="Liberation Sans, Arial, sans-serif" font-size="10.5" fill="#ff00ff">0</text>
<text transform="translate(246.6,621.6) rotate(40)" font-family="Liberation Sans, Arial, sans-serif" font-size="10.5" fill="#808000">0</text>
</g>
<circle cx="392.5" cy="444.1" r="2.4" fill="#fff" stroke="#000" stroke-width="1.1"/>
<circle cx="326.4" cy="358.1" r="2.4" fill="#fff" stroke="#000" stroke-width="1.1"/>
<circle cx="268.6" cy="283.5" r="2.4" fill="#fff" stroke="#000" stroke-width="1.1"/>
<circle cx="181.8" cy="184.9" r="2.4" fill="#fff" stroke="#000" stroke-width="1.1"/>
<circle cx="319.8" cy="512.5" r="2.4" fill="#fff" stroke="#000" stroke-width="1.1"/>
<circle cx="278.2" cy="442.1" r="2.4" fill="#fff" stroke="#000" stroke-width="1.1"/>
<circle cx="239.9" cy="363.8" r="2.4" fill="#fff" stroke="#000" stroke-width="1.1"/>
<circle cx="171.8" cy="245.0" r="2.4" fill="#fff" stroke="#000" stroke-width="1.1"/>
<circle cx="256.0" cy="560.8" r="2.4" fill="#fff" stroke="#000" stroke-width="1.1"/>
<circle cx="223.3" cy="518.0" r="2.4" fill="#fff" stroke="#000" stroke-width="1.1"/>
<circle cx="196.8" cy="466.2" r="2.4" fill="#fff" stroke="#000" stroke-width="1.1"/>
<circle cx="146.3" cy="376.9" r="2.4" fill="#fff" stroke="#000" stroke-width="1.1"/>
<circle cx="204.1" cy="590.3" r="2.4" fill="#fff" stroke="#000" stroke-width="1.1"/>
<circle cx="178.9" cy="565.5" r="2.4" fill="#fff" stroke="#000" stroke-width="1.1"/>
<circle cx="155.9" cy="540.4" r="2.4" fill="#fff" stroke="#000" stroke-width="1.1"/>
<circle cx="118.5" cy="491.2" r="2.4" fill="#fff" stroke="#000" stroke-width="1.1"/>
<text x="392.5" y="440.4" font-family="Liberation Sans, Arial, sans-serif" font-size="12.5" text-anchor="middle" fill="#000" stroke="#000" stroke-width="0.35"><tspan font-family="NanumGothic, Liberation Sans, sans-serif" letter-spacing="-0.62">1</tspan></text>
<text x="326.4" y="354.4" font-family="Liberation Sans, Arial, sans-serif" font-size="12.5" text-anchor="middle" fill="#000" stroke="#000" stroke-width="0.35">2</text>
<text x="268.6" y="279.8" font-family="Liberation Sans, Arial, sans-serif" font-size="12.5" text-anchor="middle" fill="#000" stroke="#000" stroke-width="0.35">3</text>
<text x="181.8" y="181.2" font-family="Liberation Sans, Arial, sans-serif" font-size="12.5" text-anchor="middle" fill="#000" stroke="#000" stroke-width="0.35">4</text>
<text x="319.8" y="508.8" font-family="Liberation Sans, Arial, sans-serif" font-size="12.5" text-anchor="middle" fill="#000" stroke="#000" stroke-width="0.35">5</text>
<text x="278.2" y="438.4" font-family="Liberation Sans, Arial, sans-serif" font-size="12.5" text-anchor="middle" fill="#000" stroke="#000" stroke-width="0.35">6</text>
<text x="239.9" y="360.1" font-family="Liberation Sans, Arial, sans-serif" font-size="12.5" text-anchor="middle" fill="#000" stroke="#000" stroke-width="0.35">7</text>
<text x="171.8" y="241.3" font-family="Liberation Sans, Arial, sans-serif" font-size="12.5" text-anchor="middle" fill="#000" stroke="#000" stroke-width="0.35">8</text>
<text x="256.0" y="557.1" font-family="Liberation Sans, Arial, sans-serif" font-size="12.5" text-anchor="middle" fill="#000" stroke="#000" stroke-width="0.35">9</text>
<text x="223.3" y="514.3" font-family="Liberation Sans, Arial, sans-serif" font-size="12.5" text-anchor="middle" fill="#000" stroke="#000" stroke-width="0.35"><tspan font-family="NanumGothic, Liberation Sans, sans-serif" letter-spacing="-0.62">1</tspan>0</text>
<text x="196.8" y="462.5" font-family="Liberation Sans, Arial, sans-serif" font-size="12.5" text-anchor="middle" fill="#000" stroke="#000" stroke-width="0.35"><tspan font-family="NanumGothic, Liberation Sans, sans-serif" letter-spacing="-0.62">1</tspan><tspan font-family="NanumGothic, Liberation Sans, sans-serif" letter-spacing="-0.62">1</tspan></text>
<text x="146.3" y="373.2" font-family="Liberation Sans, Arial, sans-serif" font-size="12.5" text-anchor="middle" fill="#000" stroke="#000" stroke-width="0.35"><tspan font-family="NanumGothic, Liberation Sans, sans-serif" letter-spacing="-0.62">1</tspan>2</text>
<text x="204.1" y="586.6" font-family="Liberation Sans, Arial, sans-serif" font-size="12.5" text-anchor="middle" fill="#000" stroke="#000" stroke-width="0.35"><tspan font-family="NanumGothic, Liberation Sans, sans-serif" letter-spacing="-0.62">1</tspan>3</text>
<text x="178.9" y="561.8" font-family="Liberation Sans, Arial, sans-serif" font-size="12.5" text-anchor="middle" fill="#000" stroke="#000" stroke-width="0.35"><tspan font-family="NanumGothic, Liberation Sans, sans-serif" letter-spacing="-0.62">1</tspan>4</text>
<text x="155.9" y="536.7" font-family="Liberation Sans, Arial, sans-serif" font-size="12.5" text-anchor="middle" fill="#000" stroke="#000" stroke-width="0.35"><tspan font-family="NanumGothic, Liberation Sans, sans-serif" letter-spacing="-0.62">1</tspan>5</text>
<text x="118.5" y="487.5" font-family="Liberation Sans, Arial, sans-serif" font-size="12.5" text-anchor="middle" fill="#000" stroke="#000" stroke-width="0.35"><tspan font-family="NanumGothic, Liberation Sans, sans-serif" letter-spacing="-0.62">1</tspan>6</text>
<text transform="translate(34.70,633.70) scale(1.0,1)" font-family="Liberation Sans, Arial, sans-serif" font-size="9.8" text-anchor="end" stroke="#000" stroke-width="0.12">0</text>
<text transform="translate(34.70,608.93) scale(1.0,1)" font-family="Liberation Sans, Arial, sans-serif" font-size="9.8" text-anchor="end" stroke="#000" stroke-width="0.12">20</text>
<text transform="translate(34.70,584.16) scale(1.0,1)" font-family="Liberation Sans, Arial, sans-serif" font-size="9.8" text-anchor="end" stroke="#000" stroke-width="0.12">40</text>
<text transform="translate(34.70,559.39) scale(1.0,1)" font-family="Liberation Sans, Arial, sans-serif" font-size="9.8" text-anchor="end" stroke="#000" stroke-width="0.12">60</text>
<text transform="translate(34.70,534.62) scale(1.0,1)" font-family="Liberation Sans, Arial, sans-serif" font-size="9.8" text-anchor="end" stroke="#000" stroke-width="0.12">80</text>
<text transform="translate(34.70,509.85) scale(1.0,1)" font-family="Liberation Sans, Arial, sans-serif" font-size="9.8" text-anchor="end" stroke="#000" stroke-width="0.12"><tspan font-family="NanumGothic, Liberation Sans, sans-serif" letter-spacing="-0.49">1</tspan>00</text>
<text transform="translate(34.70,485.08) scale(1.0,1)" font-family="Liberation Sans, Arial, sans-serif" font-size="9.8" text-anchor="end" stroke="#000" stroke-width="0.12"><tspan font-family="NanumGothic, Liberation Sans, sans-serif" letter-spacing="-0.49">1</tspan>20</text>
<text transform="translate(34.70,460.31) scale(1.0,1)" font-family="Liberation Sans, Arial, sans-serif" font-size="9.8" text-anchor="end" stroke="#000" stroke-width="0.12"><tspan font-family="NanumGothic, Liberation Sans, sans-serif" letter-spacing="-0.49">1</tspan>40</text>
<text transform="translate(34.70,435.54) scale(1.0,1)" font-family="Liberation Sans, Arial, sans-serif" font-size="9.8" text-anchor="end" stroke="#000" stroke-width="0.12"><tspan font-family="NanumGothic, Liberation Sans, sans-serif" letter-spacing="-0.49">1</tspan>60</text>
<text transform="translate(34.70,410.77) scale(1.0,1)" font-family="Liberation Sans, Arial, sans-serif" font-size="9.8" text-anchor="end" stroke="#000" stroke-width="0.12"><tspan font-family="NanumGothic, Liberation Sans, sans-serif" letter-spacing="-0.49">1</tspan>80</text>
<text transform="translate(34.70,386.00) scale(1.0,1)" font-family="Liberation Sans, Arial, sans-serif" font-size="9.8" text-anchor="end" stroke="#000" stroke-width="0.12">200</text>
<text transform="translate(34.70,361.23) scale(1.0,1)" font-family="Liberation Sans, Arial, sans-serif" font-size="9.8" text-anchor="end" stroke="#000" stroke-width="0.12">220</text>
<text transform="translate(34.70,336.46) scale(1.0,1)" font-family="Liberation Sans, Arial, sans-serif" font-size="9.8" text-anchor="end" stroke="#000" stroke-width="0.12">240</text>
<text transform="translate(34.70,311.69) scale(1.0,1)" font-family="Liberation Sans, Arial, sans-serif" font-size="9.8" text-anchor="end" stroke="#000" stroke-width="0.12">260</text>
<text transform="translate(34.70,286.92) scale(1.0,1)" font-family="Liberation Sans, Arial, sans-serif" font-size="9.8" text-anchor="end" stroke="#000" stroke-width="0.12">280</text>
<text transform="translate(34.70,262.15) scale(1.0,1)" font-family="Liberation Sans, Arial, sans-serif" font-size="9.8" text-anchor="end" stroke="#000" stroke-width="0.12">300</text>
<text transform="translate(34.70,237.38) scale(1.0,1)" font-family="Liberation Sans, Arial, sans-serif" font-size="9.8" text-anchor="end" stroke="#000" stroke-width="0.12">320</text>
<text transform="translate(34.70,212.61) scale(1.0,1)" font-family="Liberation Sans, Arial, sans-serif" font-size="9.8" text-anchor="end" stroke="#000" stroke-width="0.12">340</text>
<text transform="translate(34.70,187.84) scale(1.0,1)" font-family="Liberation Sans, Arial, sans-serif" font-size="9.8" text-anchor="end" stroke="#000" stroke-width="0.12">360</text>
<text transform="translate(34.70,163.07) scale(1.0,1)" font-family="Liberation Sans, Arial, sans-serif" font-size="9.8" text-anchor="end" stroke="#000" stroke-width="0.12">380</text>
<text transform="translate(34.70,138.30) scale(1.0,1)" font-family="Liberation Sans, Arial, sans-serif" font-size="9.8" text-anchor="end" stroke="#000" stroke-width="0.12">400</text>
<text transform="translate(34.70,113.53) scale(1.0,1)" font-family="Liberation Sans, Arial, sans-serif" font-size="9.8" text-anchor="end" stroke="#000" stroke-width="0.12">420</text>
<text transform="translate(38.75,643.20) scale(1.0,1)" font-family="Liberation Sans, Arial, sans-serif" font-size="9.8" text-anchor="middle" stroke="#000" stroke-width="0.12">0</text>
<text transform="translate(81.14,643.20) scale(1.0,1)" font-family="Liberation Sans, Arial, sans-serif" font-size="9.8" text-anchor="middle" stroke="#000" stroke-width="0.12">50</text>
<text transform="translate(123.54,643.20) scale(1.0,1)" font-family="Liberation Sans, Arial, sans-serif" font-size="9.8" text-anchor="middle" stroke="#000" stroke-width="0.12"><tspan font-family="NanumGothic, Liberation Sans, sans-serif" letter-spacing="-0.49">1</tspan>00</text>
<text transform="translate(165.94,643.20) scale(1.0,1)" font-family="Liberation Sans, Arial, sans-serif" font-size="9.8" text-anchor="middle" stroke="#000" stroke-width="0.12"><tspan font-family="NanumGothic, Liberation Sans, sans-serif" letter-spacing="-0.49">1</tspan>50</text>
<text transform="translate(208.33,643.20) scale(1.0,1)" font-family="Liberation Sans, Arial, sans-serif" font-size="9.8" text-anchor="middle" stroke="#000" stroke-width="0.12">200</text>
<text transform="translate(250.72,643.20) scale(1.0,1)" font-family="Liberation Sans, Arial, sans-serif" font-size="9.8" text-anchor="middle" stroke="#000" stroke-width="0.12">250</text>
<text transform="translate(293.12,643.20) scale(1.0,1)" font-family="Liberation Sans, Arial, sans-serif" font-size="9.8" text-anchor="middle" stroke="#000" stroke-width="0.12">300</text>
<text transform="translate(335.51,643.20) scale(1.0,1)" font-family="Liberation Sans, Arial, sans-serif" font-size="9.8" text-anchor="middle" stroke="#000" stroke-width="0.12">350</text>
<text transform="translate(377.91,643.20) scale(1.0,1)" font-family="Liberation Sans, Arial, sans-serif" font-size="9.8" text-anchor="middle" stroke="#000" stroke-width="0.12">400</text>
<text transform="translate(420.31,643.20) scale(1.0,1)" font-family="Liberation Sans, Arial, sans-serif" font-size="9.8" text-anchor="middle" stroke="#000" stroke-width="0.12">450</text>
<text transform="translate(462.70,643.20) scale(1.0,1)" font-family="Liberation Sans, Arial, sans-serif" font-size="9.8" text-anchor="middle" stroke="#000" stroke-width="0.12">500</text>
<text transform="translate(505.09,643.20) scale(1.0,1)" font-family="Liberation Sans, Arial, sans-serif" font-size="9.8" text-anchor="middle" stroke="#000" stroke-width="0.12">550</text>
<text transform="translate(547.49,643.20) scale(1.0,1)" font-family="Liberation Sans, Arial, sans-serif" font-size="9.8" text-anchor="middle" stroke="#000" stroke-width="0.12">600</text>
<text transform="translate(38.75,92.80) scale(1.0,1)" font-family="Liberation Sans, Arial, sans-serif" font-size="9.8" text-anchor="middle" stroke="#000" stroke-width="0.12">0</text>
<text transform="translate(110.78,92.80) scale(1.0,1)" font-family="Liberation Sans, Arial, sans-serif" font-size="9.8" text-anchor="middle" stroke="#000" stroke-width="0.12">50</text>
<text transform="translate(182.81,92.80) scale(1.0,1)" font-family="Liberation Sans, Arial, sans-serif" font-size="9.8" text-anchor="middle" stroke="#000" stroke-width="0.12"><tspan font-family="NanumGothic, Liberation Sans, sans-serif" letter-spacing="-0.49">1</tspan>00</text>
<text transform="translate(254.84,92.80) scale(1.0,1)" font-family="Liberation Sans, Arial, sans-serif" font-size="9.8" text-anchor="middle" stroke="#000" stroke-width="0.12"><tspan font-family="NanumGothic, Liberation Sans, sans-serif" letter-spacing="-0.49">1</tspan>50</text>
<text transform="translate(326.87,92.80) scale(1.0,1)" font-family="Liberation Sans, Arial, sans-serif" font-size="9.8" text-anchor="middle" stroke="#000" stroke-width="0.12">200</text>
<text transform="translate(398.90,92.80) scale(1.0,1)" font-family="Liberation Sans, Arial, sans-serif" font-size="9.8" text-anchor="middle" stroke="#000" stroke-width="0.12">250</text>
<text transform="translate(470.93,92.80) scale(1.0,1)" font-family="Liberation Sans, Arial, sans-serif" font-size="9.8" text-anchor="middle" stroke="#000" stroke-width="0.12">300</text>
<text transform="translate(542.96,92.80) scale(1.0,1)" font-family="Liberation Sans, Arial, sans-serif" font-size="9.8" text-anchor="middle" stroke="#000" stroke-width="0.12">350</text>
<text transform="translate(567.60,633.70) scale(1.0,1)" font-family="Liberation Sans, Arial, sans-serif" font-size="9.8" text-anchor="start" stroke="#000" stroke-width="0.12">0</text>
<text transform="translate(567.60,618.28) scale(1.0,1)" font-family="Liberation Sans, Arial, sans-serif" font-size="9.8" text-anchor="start" stroke="#000" stroke-width="0.12">0,05</text>
<text transform="translate(567.60,602.85) scale(1.0,1)" font-family="Liberation Sans, Arial, sans-serif" font-size="9.8" text-anchor="start" stroke="#000" stroke-width="0.12">0,<tspan font-family="NanumGothic, Liberation Sans, sans-serif" letter-spacing="-0.49">1</tspan></text>
<text transform="translate(567.60,587.43) scale(1.0,1)" font-family="Liberation Sans, Arial, sans-serif" font-size="9.8" text-anchor="start" stroke="#000" stroke-width="0.12">0,<tspan font-family="NanumGothic, Liberation Sans, sans-serif" letter-spacing="-0.49">1</tspan>5</text>
<text transform="translate(567.60,572.00) scale(1.0,1)" font-family="Liberation Sans, Arial, sans-serif" font-size="9.8" text-anchor="start" stroke="#000" stroke-width="0.12">0,2</text>
<text transform="translate(567.60,556.58) scale(1.0,1)" font-family="Liberation Sans, Arial, sans-serif" font-size="9.8" text-anchor="start" stroke="#000" stroke-width="0.12">0,25</text>
<text transform="translate(567.60,541.15) scale(1.0,1)" font-family="Liberation Sans, Arial, sans-serif" font-size="9.8" text-anchor="start" stroke="#000" stroke-width="0.12">0,3</text>
<text transform="translate(567.60,525.73) scale(1.0,1)" font-family="Liberation Sans, Arial, sans-serif" font-size="9.8" text-anchor="start" stroke="#000" stroke-width="0.12">0,35</text>
<text transform="translate(567.60,510.30) scale(1.0,1)" font-family="Liberation Sans, Arial, sans-serif" font-size="9.8" text-anchor="start" stroke="#000" stroke-width="0.12">0,4</text>
<text transform="translate(567.60,494.88) scale(1.0,1)" font-family="Liberation Sans, Arial, sans-serif" font-size="9.8" text-anchor="start" stroke="#000" stroke-width="0.12">0,45</text>
<text transform="translate(567.60,479.45) scale(1.0,1)" font-family="Liberation Sans, Arial, sans-serif" font-size="9.8" text-anchor="start" stroke="#000" stroke-width="0.12">0,5</text>
<text transform="translate(567.60,464.03) scale(1.0,1)" font-family="Liberation Sans, Arial, sans-serif" font-size="9.8" text-anchor="start" stroke="#000" stroke-width="0.12">0,55</text>
<text transform="translate(567.60,448.60) scale(1.0,1)" font-family="Liberation Sans, Arial, sans-serif" font-size="9.8" text-anchor="start" stroke="#000" stroke-width="0.12">0,6</text>
<text transform="translate(567.60,433.18) scale(1.0,1)" font-family="Liberation Sans, Arial, sans-serif" font-size="9.8" text-anchor="start" stroke="#000" stroke-width="0.12">0,65</text>
<text transform="translate(567.60,417.75) scale(1.0,1)" font-family="Liberation Sans, Arial, sans-serif" font-size="9.8" text-anchor="start" stroke="#000" stroke-width="0.12">0,7</text>
<text transform="translate(567.60,402.33) scale(1.0,1)" font-family="Liberation Sans, Arial, sans-serif" font-size="9.8" text-anchor="start" stroke="#000" stroke-width="0.12">0,75</text>
<text transform="translate(567.60,386.90) scale(1.0,1)" font-family="Liberation Sans, Arial, sans-serif" font-size="9.8" text-anchor="start" stroke="#000" stroke-width="0.12">0,8</text>
<text transform="translate(567.60,371.48) scale(1.0,1)" font-family="Liberation Sans, Arial, sans-serif" font-size="9.8" text-anchor="start" stroke="#000" stroke-width="0.12">0,85</text>
<text transform="translate(567.60,356.05) scale(1.0,1)" font-family="Liberation Sans, Arial, sans-serif" font-size="9.8" text-anchor="start" stroke="#000" stroke-width="0.12">0,9</text>
<text transform="translate(567.60,340.63) scale(1.0,1)" font-family="Liberation Sans, Arial, sans-serif" font-size="9.8" text-anchor="start" stroke="#000" stroke-width="0.12">0,95</text>
<text transform="translate(567.60,325.20) scale(1.0,1)" font-family="Liberation Sans, Arial, sans-serif" font-size="9.8" text-anchor="start" stroke="#000" stroke-width="0.12"><tspan font-family="NanumGothic, Liberation Sans, sans-serif" letter-spacing="-0.49">1</tspan></text>
<text transform="translate(567.60,309.78) scale(1.0,1)" font-family="Liberation Sans, Arial, sans-serif" font-size="9.8" text-anchor="start" stroke="#000" stroke-width="0.12"><tspan font-family="NanumGothic, Liberation Sans, sans-serif" letter-spacing="-0.49">1</tspan>,05</text>
<text transform="translate(567.60,294.35) scale(1.0,1)" font-family="Liberation Sans, Arial, sans-serif" font-size="9.8" text-anchor="start" stroke="#000" stroke-width="0.12"><tspan font-family="NanumGothic, Liberation Sans, sans-serif" letter-spacing="-0.49">1</tspan>,<tspan font-family="NanumGothic, Liberation Sans, sans-serif" letter-spacing="-0.49">1</tspan></text>
<text transform="translate(567.60,278.93) scale(1.0,1)" font-family="Liberation Sans, Arial, sans-serif" font-size="9.8" text-anchor="start" stroke="#000" stroke-width="0.12"><tspan font-family="NanumGothic, Liberation Sans, sans-serif" letter-spacing="-0.49">1</tspan>,<tspan font-family="NanumGothic, Liberation Sans, sans-serif" letter-spacing="-0.49">1</tspan>5</text>
<text transform="translate(567.60,263.50) scale(1.0,1)" font-family="Liberation Sans, Arial, sans-serif" font-size="9.8" text-anchor="start" stroke="#000" stroke-width="0.12"><tspan font-family="NanumGothic, Liberation Sans, sans-serif" letter-spacing="-0.49">1</tspan>,2</text>
<text transform="translate(567.60,248.08) scale(1.0,1)" font-family="Liberation Sans, Arial, sans-serif" font-size="9.8" text-anchor="start" stroke="#000" stroke-width="0.12"><tspan font-family="NanumGothic, Liberation Sans, sans-serif" letter-spacing="-0.49">1</tspan>,25</text>
<text transform="translate(567.60,232.65) scale(1.0,1)" font-family="Liberation Sans, Arial, sans-serif" font-size="9.8" text-anchor="start" stroke="#000" stroke-width="0.12"><tspan font-family="NanumGothic, Liberation Sans, sans-serif" letter-spacing="-0.49">1</tspan>,3</text>
<text transform="translate(567.60,217.23) scale(1.0,1)" font-family="Liberation Sans, Arial, sans-serif" font-size="9.8" text-anchor="start" stroke="#000" stroke-width="0.12"><tspan font-family="NanumGothic, Liberation Sans, sans-serif" letter-spacing="-0.49">1</tspan>,35</text>
<text transform="translate(567.60,201.80) scale(1.0,1)" font-family="Liberation Sans, Arial, sans-serif" font-size="9.8" text-anchor="start" stroke="#000" stroke-width="0.12"><tspan font-family="NanumGothic, Liberation Sans, sans-serif" letter-spacing="-0.49">1</tspan>,4</text>
<text transform="translate(567.60,186.38) scale(1.0,1)" font-family="Liberation Sans, Arial, sans-serif" font-size="9.8" text-anchor="start" stroke="#000" stroke-width="0.12"><tspan font-family="NanumGothic, Liberation Sans, sans-serif" letter-spacing="-0.49">1</tspan>,45</text>
<text transform="translate(567.60,170.95) scale(1.0,1)" font-family="Liberation Sans, Arial, sans-serif" font-size="9.8" text-anchor="start" stroke="#000" stroke-width="0.12"><tspan font-family="NanumGothic, Liberation Sans, sans-serif" letter-spacing="-0.49">1</tspan>,5</text>
<text transform="translate(567.60,155.53) scale(1.0,1)" font-family="Liberation Sans, Arial, sans-serif" font-size="9.8" text-anchor="start" stroke="#000" stroke-width="0.12"><tspan font-family="NanumGothic, Liberation Sans, sans-serif" letter-spacing="-0.49">1</tspan>,55</text>
<text transform="translate(567.60,140.11) scale(1.0,1)" font-family="Liberation Sans, Arial, sans-serif" font-size="9.8" text-anchor="start" stroke="#000" stroke-width="0.12"><tspan font-family="NanumGothic, Liberation Sans, sans-serif" letter-spacing="-0.49">1</tspan>,6</text>
<text transform="translate(567.60,124.68) scale(1.0,1)" font-family="Liberation Sans, Arial, sans-serif" font-size="9.8" text-anchor="start" stroke="#000" stroke-width="0.12"><tspan font-family="NanumGothic, Liberation Sans, sans-serif" letter-spacing="-0.49">1</tspan>,65</text>
<text transform="translate(567.60,109.26) scale(1.0,1)" font-family="Liberation Sans, Arial, sans-serif" font-size="9.8" text-anchor="start" stroke="#000" stroke-width="0.12"><tspan font-family="NanumGothic, Liberation Sans, sans-serif" letter-spacing="-0.49">1</tspan>,7</text>
<text x="301.3" y="81.4" font-family="Liberation Sans, Arial, sans-serif" font-size="10" stroke="#000" stroke-width="0.15" text-anchor="middle" textLength="29.4" lengthAdjust="spacingAndGlyphs">V [cfm]</text>
<text x="300.2" y="67.2" font-family="Liberation Sans, Arial, sans-serif" font-size="5" text-anchor="middle" textLength="74.6" lengthAdjust="spacingAndGlyphs">Druck Pfa [Pa] für Rho=1,2kg/m^3</text>
<text x="300.9" y="654.7" font-family="Liberation Sans, Arial, sans-serif" font-size="10" stroke="#000" stroke-width="0.15" text-anchor="middle" textLength="38.6" lengthAdjust="spacingAndGlyphs">V [m^3/h]</text>
<text transform="translate(13.2,364) rotate(-90)" font-family="Liberation Sans, Arial, sans-serif" font-size="10" stroke="#000" stroke-width="0.15" text-anchor="middle" textLength="34.6" lengthAdjust="spacingAndGlyphs">Pfa [Pa]</text>
<text transform="translate(592.2,364) rotate(-90)" font-family="Liberation Sans, Arial, sans-serif" font-size="9" stroke="#000" stroke-width="0.12" text-anchor="middle" textLength="66.3" lengthAdjust="spacingAndGlyphs">Pfa_E [IN H2O]</text>
</svg>
</body></html>
